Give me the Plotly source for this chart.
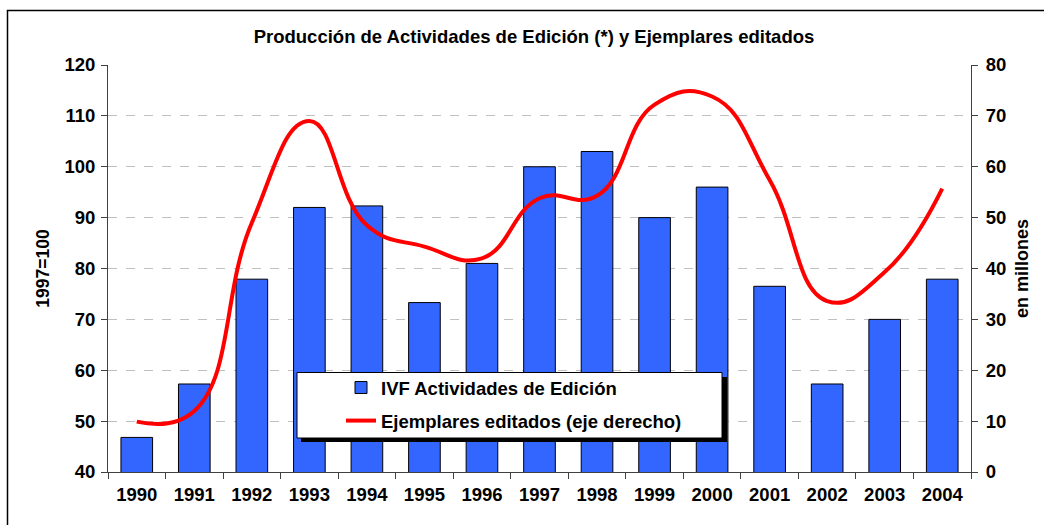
import plotly.graph_objects as go

years = ["1990", "1991", "1992", "1993", "1994", "1995", "1996", "1997",
         "1998", "1999", "2000", "2001", "2002", "2003", "2004"]
ivf_edicion = [46.8, 57.3, 77.9, 92.0, 92.3, 73.3, 81.0, 100.0,
               103.0, 90.0, 96.0, 76.5, 57.3, 70.0, 77.9]
ejemplares = [9.9, 12.0, 49.0, 69.0, 48.5, 44.3, 42.0, 53.8,
              54.3, 72.2, 73.8, 57.4, 33.6, 39.3, 55.7]

FONT = "Liberation Sans, Arial, sans-serif"
W, H = 1044, 525
L, R, T, B = 108, 971, 65, 472  # plot area in px


def px_x(x):
    return (x - L) / (R - L)


def px_y(y):
    return (B - y) / (B - T)


fig = go.Figure()
fig.add_trace(go.Bar(
    x=years, y=ivf_edicion, name="IVF Actividades de Edición",
    marker=dict(color="#3366FF", line=dict(color="#000000", width=1)),
    width=0.55, legendgroup="a",
))
fig.add_trace(go.Scatter(
    x=years, y=ejemplares, name="Ejemplares editados (eje derecho)",
    mode="lines", line=dict(color="#FF0000", width=4, shape="spline", smoothing=1.3),
    yaxis="y2", legendgroup="b",
))

shapes = [
    # outer chart border
    dict(type="rect", xref="paper", yref="paper",
         x0=px_x(7.5), x1=px_x(1060), y0=px_y(540), y1=px_y(10.5),
         line=dict(color="#000000", width=1.5), fillcolor="rgba(0,0,0,0)", layer="below"),
    # legend shadow
    dict(type="rect", xref="paper", yref="paper",
         x0=px_x(301), x1=px_x(727), y0=px_y(442), y1=px_y(377),
         line=dict(width=0), fillcolor="#000000", layer="above"),
    # legend box
    dict(type="rect", xref="paper", yref="paper",
         x0=px_x(297), x1=px_x(722), y0=px_y(438), y1=px_y(372.5),
         line=dict(color="#000000", width=1), fillcolor="#FFFFFF", layer="above"),
]

TICKF = dict(family=FONT, size=18.5, weight="bold")

fig.update_layout(
    width=W, height=H,
    margin=dict(l=L, r=W - R, t=T, b=H - B, autoexpand=False),
    paper_bgcolor="white", plot_bgcolor="white",
    font=dict(family=FONT, size=16, color="black", weight="bold"),
    title=dict(text="Producción de Actividades de Edición (*) y Ejemplares editados",
               x=px_x(534), xref="paper", xanchor="center",
               y=1 - 37 / H, yanchor="middle",
               font=dict(family=FONT, size=18.5, weight="bold")),
    bargap=0.45,
    showlegend=True,
    legend=dict(x=px_x(341), y=px_y(369), xanchor="left", yanchor="top",
                bgcolor="rgba(0,0,0,0)", borderwidth=0,
                font=dict(family=FONT, size=18.5, weight="bold"),
                tracegroupgap=6),
    shapes=shapes,
    xaxis=dict(type="category", showline=True, linecolor="#404040", linewidth=1,
               ticks="outside", tickson="boundaries", ticklen=6, tickcolor="#404040",
               tickfont=TICKF, ticklabelstandoff=6, showgrid=False, fixedrange=True),
    yaxis=dict(range=[40, 120], dtick=10, showline=True, linecolor="#404040", linewidth=1,
               ticks="outside", ticklen=6, tickcolor="#404040",
               tickfont=TICKF, ticklabelstandoff=2,
               showgrid=True, gridcolor="#C0C0C0", griddash="dash", gridwidth=1,
               zeroline=False,
               title=dict(text="1997=100", font=dict(family=FONT, size=17.5, weight="bold"),
                          standoff=10)),
    yaxis2=dict(range=[0, 80], dtick=10, overlaying="y", side="right",
                showline=True, linecolor="#404040", linewidth=1,
                ticks="outside", ticklen=6, tickcolor="#404040",
                tickfont=TICKF, ticklabelstandoff=4,
                showgrid=False, zeroline=False,
                title=dict(text="en millones", font=dict(family=FONT, size=18, weight="bold"),
                           standoff=10)),
)

fig.write_html("out.html", config={"displayModeBar": False},
               post_script="document.body.style.margin='0';")
